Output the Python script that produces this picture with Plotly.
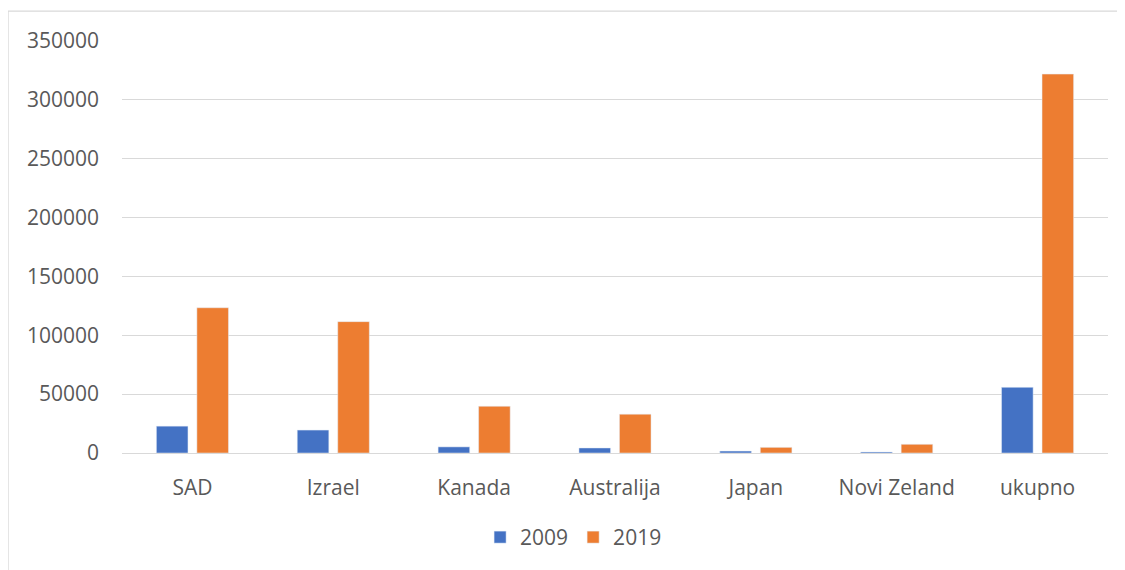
import plotly.graph_objects as go

categories = ["SAD", "Izrael", "Kanada", "Australija", "Japan", "Novi Zeland", "ukupno"]
values_2009 = [22800, 19500, 5200, 4300, 1600, 900, 55800]
values_2019 = [123400, 111600, 39700, 33000, 4800, 7400, 321900]

fig = go.Figure()
fig.add_trace(go.Bar(name="2009", x=categories, y=values_2009, marker_color="#4472C4"))
fig.add_trace(go.Bar(name="2019", x=categories, y=values_2019, marker_color="#ED7D31"))

font_family = "Open Sans, Liberation Sans, sans-serif"
fig.update_layout(
    width=1117, height=562,
    margin=dict(l=114, r=17, t=33, b=115),
    plot_bgcolor="white", paper_bgcolor="white",
    barmode="group", bargap=0.425, bargroupgap=0.22,
    font=dict(family=font_family, size=21, color="#595959"),
    legend=dict(orientation="h", x=0.458, xanchor="center", y=-0.205, yanchor="middle",
                font=dict(size=21, color="#595959"), itemwidth=30, traceorder="normal"),
    showlegend=True,
)
fig.update_yaxes(range=[0, 350000], dtick=50000, tickformat="d", showgrid=True,
                 gridcolor="#D9D9D9", gridwidth=1.3, zeroline=False, showline=False,
                 ticklabelstandoff=22, tickfont=dict(size=21, color="#595959"))
fig.update_xaxes(showline=True, linecolor="#D9D9D9", linewidth=1.3, ticks="",
                 ticklabelstandoff=16, tickfont=dict(size=21, color="#595959"))
fig.add_shape(type="rect", xref="paper", yref="paper", x0=-0.1156, x1=1.0122, y0=-0.3, y1=1.0725,
              line=dict(color="#D9D9D9", width=1.3), fillcolor="rgba(0,0,0,0)", layer="below")

fig.write_html("out.html")
